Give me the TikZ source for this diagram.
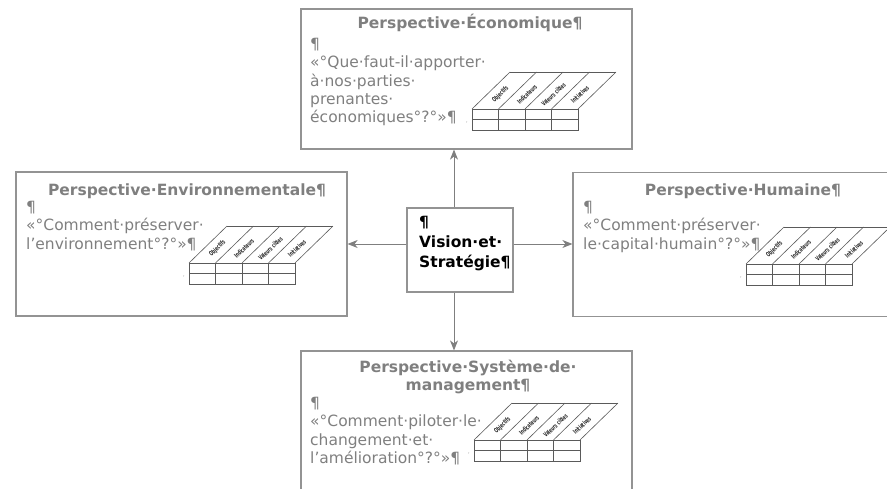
\documentclass[tikz,border=0pt]{standalone}
\usepackage{fontspec}
\setmainfont{DejaVu Sans}
\usetikzlibrary{arrows.meta}
\definecolor{txtgray}{HTML}{7F7F7F}
\definecolor{linegray}{HTML}{939393}
\definecolor{tblgray}{HTML}{5A5A5A}
\tikzset{
  persp/.style={draw=linegray,line width=1.2pt,minimum width=331pt,minimum height=144pt,inner sep=0pt},
  ptitle/.style={text=txtgray,font=\fontsize{15.5}{18.3}\selectfont\bfseries,align=center,inner sep=0pt},
  pbody/.style={text=txtgray,font=\fontsize{15.5}{18.3}\selectfont,align=left,anchor=north west,inner sep=0pt},
  vtext/.style={font=\fontsize{15.5}{20}\selectfont\bfseries,align=left,anchor=north west,inner sep=0pt},
  conn/.style={draw=txtgray,line width=0.9pt,-{Stealth[length=10pt,width=8pt,inset=3pt]}},
  tbl/.style={draw=tblgray,line width=0.6pt},
  kpilbl/.style={font=\fontsize{6.5}{6.5}\selectfont\bfseries,text=black!85,rotate=44,inner sep=0pt},
  kpitab/.pic={
    \draw[tbl] (0,0) rectangle (106,21);
    \draw[tbl] (0,10.5) -- (106,10.5);
    \foreach \c in {26.5,53,79.5}
      \draw[tbl] (\c,0) -- (\c,21);
    \foreach \c in {0,26.5,53,79.5,106}
      \draw[tbl] (\c,0) -- ++(38,-37);
    \draw[tbl] (38,-37) -- (144,-37);
    \foreach \lbl [count=\i from 0] in {Objectifs,Indicateurs,Valeurs cibles,Initiatives}
      \node[kpilbl] (-lbl\i) at (26.5*\i+28.5,-14.5) {\scalebox{0.6}[1]{\lbl}};
    \node[font=\tiny,text=txtgray,inner sep=0pt] (-mark) at (-5,13) {,};
  }
}
\begin{document}
\begin{tikzpicture}[x=1pt,y=-1pt]
  \useasboundingbox (0,0) rectangle (887,488);
  % boxes
  \node[persp,minimum height=140pt] (eco) at (466.5,79) {};
  \node[persp] (env) at (181.5,244) {};
  \node[persp] (hum) at (738.5,244.5) {};
  \node[persp] (mgmt) at (466.5,423) {};
  \node[draw=linegray,line width=1.2pt,minimum width=106pt,minimum height=84pt] (vision) at (460,250) {};
  \node[vtext] (vistxt) at (419,216) {¶\\Vision·et·\\Stratégie¶};

  % titles
  \node[ptitle,anchor=base] (ecotitle) at (470,28) {Perspective·Économique¶};
  \node[ptitle,anchor=base] (envtitle) at (187,195) {Perspective·Environnementale¶};
  \node[ptitle,anchor=base] (humtitle) at (743,195) {Perspective·Humaine¶};
  \node[ptitle,anchor=north] (mgmttitle) at (468,360) {Perspective·Système·de·\\management¶};

  % questions
  \node[pbody] (ecobody) at (310,38) {¶\\«°Que·faut-il·apporter·\\à·nos·parties·\\prenantes·\\économiques°?°»¶};
  \node[pbody] (envbody) at (26,201) {¶\\«°Comment·préserver·\\l’environnement°?°»¶};
  \node[pbody] (humbody) at (583,201) {¶\\«°Comment·préserver·\\le·capital·humain°?°»¶};
  \node[pbody] (mgmtbody) at (310,397) {¶\\«°Comment·piloter·le·\\changement·et·\\l’amélioration°?°»¶};

  % tables
  \pic (ecotab) at (472,109) {kpitab};
  \pic (envtab) at (189,263) {kpitab};
  \pic (humtab) at (746,264) {kpitab};
  \pic (mgmttab) at (474,440) {kpitab};

  % arrows
  \draw[conn] ([xshift=-6pt]vision.north) -- ([xshift=-6pt]vision.north |- eco.south);
  \draw[conn] ([xshift=-6pt]vision.south) -- ([xshift=-6pt]vision.south |- mgmt.north);
  \draw[conn] ([yshift=6pt]vision.west) -- ([yshift=6pt]vision.west -| env.east);
  \draw[conn] ([yshift=6pt]vision.east) -- ([yshift=6pt]vision.east -| hum.west);
\end{tikzpicture}
\end{document}
